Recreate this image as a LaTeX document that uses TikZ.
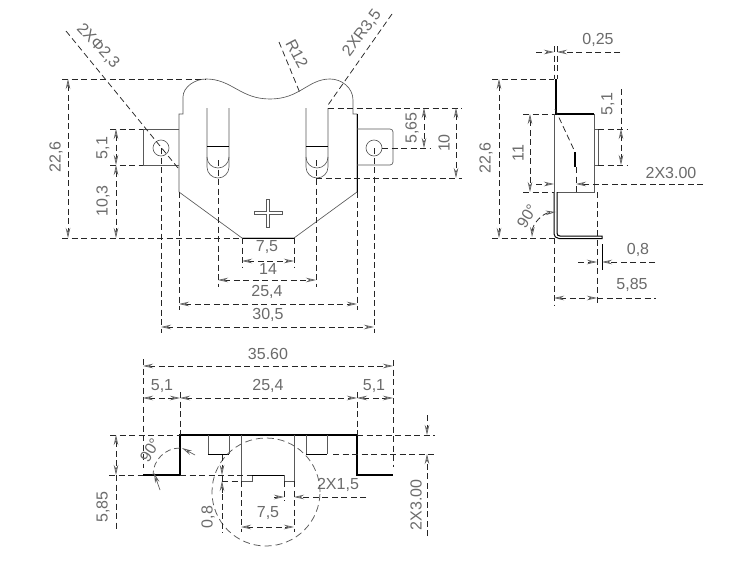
\documentclass[tikz,border=0pt]{standalone}
\usepackage{fontspec}
\setmainfont{Liberation Sans}
\usetikzlibrary{arrows.meta}
\tikzset{
  ol/.style={draw=black!65,line width=0.65pt},
  thick ol/.style={draw=black,line width=1.5pt},
  med ol/.style={draw=black,line width=1pt},
  ext/.style={draw=black!85,line width=0.75pt,dash pattern=on 6pt off 3.5pt},
  tipa/.tip={Stealth[open,length=10pt,width=4.5pt,line width=0.7pt,color=black!65,fill=white]},
  dim/.style={ext,tipa-tipa},
  dimr/.style={ext,-tipa},
  lab/.style={text=black!58,font=\fontsize{16}{16}\selectfont,inner sep=0pt},
  lv/.style={lab,rotate=90},
}
\begin{document}
\begin{tikzpicture}[x=1pt,y=-1pt]
\useasboundingbox (0,0) rectangle (731,573);
\fill[white] (0,0) rectangle (731,573);
% ---------- front view
\path[ol] (183,114) -- (183,97) .. controls (183,87) and (195,79) .. (206,79)
  .. controls (232,79) and (240,99) .. (270,99)
  .. controls (300,99) and (308,79) .. (330,79)
  .. controls (342,79) and (353,88) .. (353,100) -- (353,114) -- (357,114) -- (357,192)
  -- (294,238) -- (242,238) -- (179,192) -- (179,114) -- cycle;
\path[med ol] (242,238) -- (294,238);
\path[med ol] (357,114) -- (357,192);
\path[ol] (179,129) -- (143,129) -- (143,165) -- (179,165);
\path[ol,rounded corners=3pt] (357,129) -- (393,129) -- (393,165) -- (357,165);
\path[ol] (161,148) circle[radius=8pt];
\path[ol] (374,148) circle[radius=8pt];
\foreach \cx in {218,317} {
  \path[ol] (\cx-11,108) -- (\cx-11,167) arc[start angle=180,end angle=360,radius=11pt] -- (\cx+11,108);
  \path[ol] (\cx-11,157) arc[start angle=180,end angle=360,radius=11pt];
  \path[med ol] (\cx-11,146) -- (\cx+11,146);
}
\path[ol] (254,211.5) -- (266.5,211.5) -- (266.5,199) -- (269.5,199) -- (269.5,211.5) -- (282,211.5)
  -- (282,214.5) -- (269.5,214.5) -- (269.5,227) -- (266.5,227) -- (266.5,214.5) -- (254,214.5) -- cycle;
% leaders
\path[ext] (66,31) -- (178,168);
\path[ext] (279,42) -- (300,93);
\path[ext] (392,14) -- (328,105);
\node[lab,rotate=-47] (dia) at (98,46) {2XΦ2,3};
\node[lab,rotate=-62] (r12) at (297,54) {R12};
\node[lab,rotate=53] (r35) at (362,33) {2XR3,5};
% left dimensions
\path[ext] (62,79) -- (206,79);
\path[ext] (62,238) -- (242,238);
\path[ext] (110,129) -- (143,129);
\path[ext] (110,165) -- (143,165);
\path[dim] (68,79) -- (68,238);
\path[dim] (116,129) -- (116,165);
\path[dim] (116,165) -- (116,238);
\node[lv] (a226) at (56,157) {22,6};
\node[lv] (a51) at (103,148) {5,1};
\node[lv] (a103) at (103,201) {10,3};
% right dimensions
\path[ext] (328,108) -- (462,108);
\path[ext] (316,178) -- (462,178);
\path[ext] (382,148) -- (430,148);
\path[dim] (424,108) -- (424,148);
\path[dim] (456,108) -- (456,178);
\node[lv] (a565) at (412,128) {5,65};
\node[lv] (a10) at (444,143) {10};
% bottom dimensions
\path[ext] (161,148) -- (161,333);
\path[ext] (374,148) -- (374,333);
\path[ext] (179,192) -- (179,310);
\path[ext] (357,192) -- (357,310);
\path[ext] (218,160) -- (218,287);
\path[ext] (316,160) -- (316,287);
\path[ext] (242,238) -- (242,267);
\path[ext] (294,238) -- (294,267);
\path[dim] (242,261) -- (294,261);
\path[dim] (218,280) -- (316,280);
\path[dim] (179,304) -- (357,304);
\path[dim] (161,327) -- (374,327);
\node[lab] (b75) at (267,247) {7,5};
\node[lab] (b14) at (268,269) {14};
\node[lab] (b254) at (267,292) {25,4};
\node[lab] (b305) at (268,315) {30,5};
% ---------- side view
\path[thick ol] (556,79) -- (556,114) -- (594,114);
\path[ol] (554,114) -- (554,192);
\path[ol] (594,114) -- (594,192) -- (557,192);
\path[ol] (594,129) -- (598,129) -- (598,165) -- (594,165);
\path[thick ol] (575,152) -- (575,167);
\path[ext] (555,109) -- (575,152);
\path[ext] (576,167) -- (576,192);
\path[med ol] (557,192) -- (557,233) .. controls (557,235) and (558,236) .. (560,236) -- (602,236) -- (602,238.5) -- (559,238.5) .. controls (556,238.5) and (554,236) .. (554,234) -- (554,192);
\path[ext] (554,46) -- (554,79);
\path[ext] (557,46) -- (557,79);
\path[dimr] (536,52) -- (554,52);
\path[dimr] (620,52) -- (557,52);
\node[lab] (c025) at (598,40) {0,25};
\path[ext] (492,79) -- (554,79);
\path[ext] (492,238) -- (554,238);
\path[dim] (499,79) -- (499,238);
\node[lv] (c226) at (486,158) {22,6};
\path[ext] (523,114) -- (554,114);
\path[ext] (523,192) -- (554,192);
\path[dim] (530,114) -- (530,192);
\node[lv] (c11) at (518,153) {11};
\path[ext] (621,89) -- (621,129);
\path[ext] (598,129) -- (628,129);
\path[ext] (598,165) -- (628,165);
\path[dim] (621,129) -- (621,165);
\node[lv] (c51) at (608,104) {5,1};
\path[dimr] (536,184) -- (554,184);
\path[dimr] (703,184) -- (576,184);
\node[lab] (c300) at (671,173) {2X3.00};
\path[ext] (554,238) -- (554,305);
\path[ext] (597,192) -- (597,305);
\path[med ol] (602,244) -- (602,270);
\path[dimr] (578,262) -- (597,262);
\path[dimr] (655,262) -- (602,262);
\node[lab] (c08) at (638,250) {0,8};
\path[dim] (554,298) -- (597,298);
\path[ext] (597,298) -- (656,298);
\node[lab] (c585) at (632,285) {5,85};
\path[ext,tipa-tipa] (532,237) arc[start angle=178,end angle=95,radius=26pt];
\node[lab,rotate=58] (c90) at (527,216) {90°};
% ---------- bottom view
\path[thick ol] (143,475) -- (180,475) -- (180,435) -- (357,435) -- (357,475) -- (393,475);
\path[ol] (208,435) -- (208,454);
\path[ol] (229,435) -- (229,454);
\path[med ol] (208,454) -- (229,454);
\path[ol] (306,435) -- (306,454);
\path[ol] (327,435) -- (327,454);
\path[med ol] (306,454) -- (327,454);
\path[ol] (241,435) -- (241,481) -- (252,481) -- (252,475) -- (284,475) -- (284,481) -- (294,481) -- (294,435);
\path[med ol] (252,475) -- (284,475);
\path[ext,draw=black!65,dash pattern=on 7pt off 4pt] (266,492) circle[radius=54pt];
\path[ext] (143,359) -- (143,468);
\path[ext] (393,360) -- (393,467);
\path[ext] (180,392) -- (180,435);
\path[ext] (357,392) -- (357,435);
\path[dim] (143,366) -- (393,366);
\path[dim] (143,398) -- (180,398);
\path[dim] (180,398) -- (357,398);
\path[dim] (357,398) -- (393,398);
\node[lab] (d356) at (268,354) {35.60};
\node[lab] (d51a) at (162,386) {5,1};
\node[lab] (d254) at (268,386) {25,4};
\node[lab] (d51b) at (374,386) {5,1};
\path[ext] (110,435) -- (180,435);
\path[ext] (109,475) -- (143,475);
\path[ext] (180,475) -- (252,475);
\path[dim] (116,435) -- (116,475);
\path[ext] (116,475) -- (116,530);
\node[lv] (d585) at (103,507) {5,85};
\path[ext,draw=black!65] (180,448) arc[start angle=90,end angle=180,radius=27pt];
\path[ol,-tipa] (195,455) -- (182,448);
\path[ol,-tipa] (160,490) -- (154,473);
\node[lab,rotate=58] (d90) at (150,450) {90°};
\path[ext] (222,475) -- (222,533);
\path[dimr] (222,455) -- (222,475);
\path[ext,tipa-] (222,481) -- (222,500);
\path[ext] (222,481) -- (241,481);
\node[lv] (d08) at (208,517) {0,8};
\path[ext] (241,481) -- (241,532);
\path[ext] (294,481) -- (294,532);
\path[ext] (284,481) -- (284,501);
\path[dim] (241,527) -- (294,527);
\node[lab] (d75) at (268,513) {7,5};
\path[dimr] (274,497) -- (284,497);
\path[dimr] (366,497) -- (294,497);
\node[lab] (d15) at (338,485) {2X1,5};
\path[ext] (357,435) -- (435,435);
\path[ext] (333,454) -- (435,454);
\path[dimr] (427,415) -- (427,435);
\path[dimr] (427,536) -- (427,454);
\node[lv] (d300) at (416,505) {2X3.00};
\end{tikzpicture}
\end{document}
